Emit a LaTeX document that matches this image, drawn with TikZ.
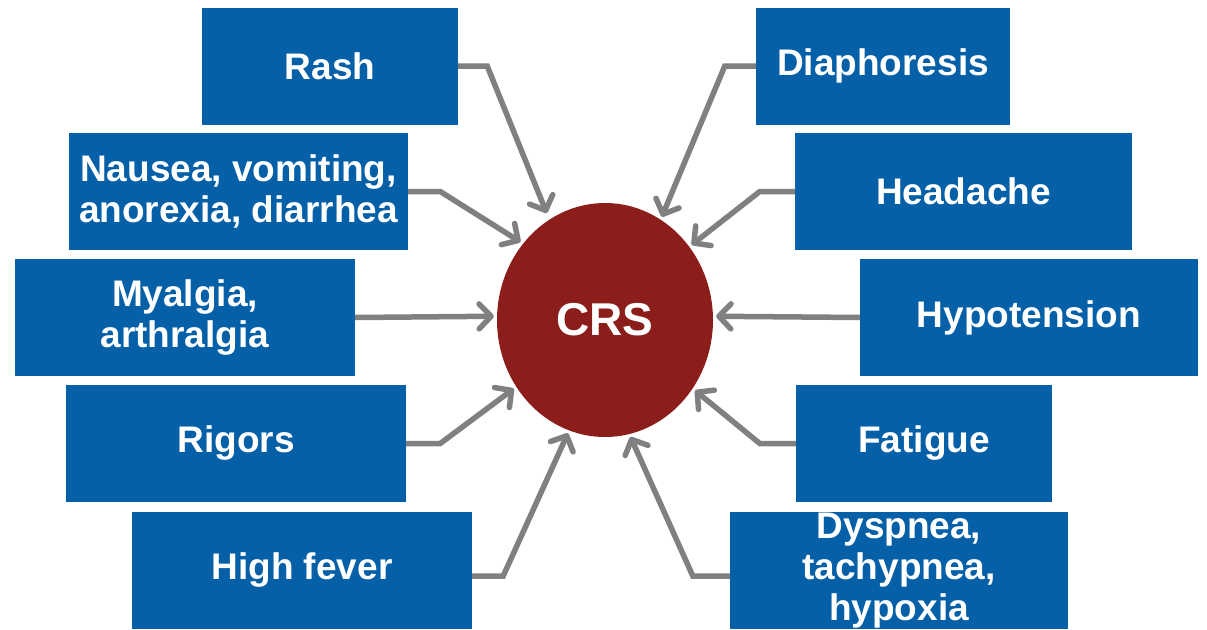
\documentclass[tikz,border=0pt]{standalone}
\usepackage{fontspec}
\setmainfont{Liberation Sans}
\usetikzlibrary{arrows.meta, shapes.geometric}

\definecolor{boxblue}{RGB}{5,96,168}
\definecolor{crsred}{RGB}{139,30,27}
\definecolor{arrowgray}{RGB}{128,128,128}

\begin{document}
\begin{tikzpicture}[
        x = 1pt, y = -1pt,
        shorten >= 3pt,
        >= {Straight Barb[round, length = 12pt, width = 25pt]},
        symptom/.style = {fill = boxblue, text = white, align = center,
                          font = \fontsize{37}{41}\selectfont\bfseries,
                          inner sep = 0pt, minimum height = 117pt},
        syndrome/.style = {ellipse, fill = crsred, text = white, inner sep = 0pt,
                           font = \fontsize{46}{50}\selectfont\bfseries,
                           minimum width = 216pt, minimum height = 234pt},
        link/.style = {->, draw = arrowgray, line width = 5.5pt}
    ]

      \useasboundingbox (0,0) rectangle (1207,629);

      \node[syndrome] (crs) at (605,320) {CRS};

      % left column
      \node[symptom, minimum width = 256pt] (rash)    at (330,66)      {Rash};
      \node[symptom, minimum width = 339pt] (nausea)  at (238.5,191.5) {Nausea, vomiting,\\anorexia, diarrhea};
      \node[symptom, minimum width = 340pt] (myalgia) at (185,317.5)   {Myalgia,\\arthralgia};
      \node[symptom, minimum width = 340pt] (rigors)  at (236,443.5)   {Rigors};
      \node[symptom, minimum width = 340pt] (fever)   at (302,570.5)   {High fever};

      % right column
      \node[symptom, minimum width = 254pt] (diaphoresis) at (883,66)      {Diaphoresis};
      \node[symptom, minimum width = 337pt] (headache)    at (963.5,191.5) {Headache};
      \node[symptom, minimum width = 338pt] (hypotension) at (1029,317.5)  {Hypotension};
      \node[symptom, minimum width = 256pt] (fatigue)     at (924,443.5)   {Fatigue};
      \node[symptom, minimum width = 338pt] (dyspnea)     at (899,570.5)   {Dyspnea,\\tachypnea,\\hypoxia};

      \draw[link, shorten >= 7pt] (rash.east) -- ++(29,0) -- (crs.119);
      \draw[link] (nausea.east)  -- ++(32,0) -- (crs.137);
      \draw[link] (myalgia.east) -- (crs.178);
      \draw[link] (rigors.east)  -- ++(34,0) -- (crs.217);
      \draw[link] ([yshift=-5.5pt]fever.east) -- ++(31,0) -- (crs.252);

      \draw[link] (diaphoresis.west) -- ++(-31,0) -- (crs.61);
      \draw[link] (headache.west)    -- ++(-35,0) -- (crs.41);
      \draw[link] (hypotension.west) -- (crs.2);
      \draw[link] (fatigue.west)     -- ++(-36,0) -- (crs.322);
      \draw[link] ([yshift=-5.5pt]dyspnea.west) -- ++(-37,0) -- (crs.282);

    \end{tikzpicture}
\end{document}
